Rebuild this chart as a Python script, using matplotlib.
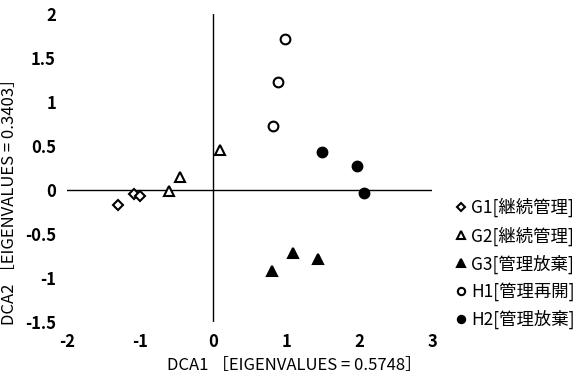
import matplotlib
matplotlib.use("Agg")
import matplotlib.pyplot as plt

plt.rcParams['font.family'] = ['Noto Sans CJK JP', 'DejaVu Sans']

g1_x = [-1.30, -1.08, -1.00]
g1_y = [-0.17, -0.05, -0.07]
g2_x = [-0.60, -0.45, 0.10]
g2_y = [-0.01, 0.15, 0.46]
g3_x = [0.81, 1.10, 1.44]
g3_y = [-0.92, -0.72, -0.78]
h1_x = [0.82, 0.89, 0.99]
h1_y = [0.73, 1.23, 1.72]
h2_x = [1.49, 1.97, 2.07]
h2_y = [0.43, 0.27, -0.03]

labels = ['G1[継続管理]', 'G2[継続管理]', 'G3[管理放棄]', 'H1[管理再開]', 'H2[管理放棄]']
xticks = [-2, -1, 0, 1, 2, 3]
yticks = [-1.5, -1, -0.5, 0, 0.5, 1, 1.5, 2]
ytick_labels = ['-1.5', '-1', '-0.5', '0', '0.5', '1', '1.5', '2']

fig = plt.figure(figsize=(5.86, 3.74), dpi=100)
ax = fig.add_axes([67/586, 1-322/374, (432-67)/586, (322-14)/374])

ms = 7
ax.plot(g1_x, g1_y, 'D', ms=5.5, mfc='white', mec='black', mew=1.5, ls='none', label=labels[0])
ax.plot(g2_x, g2_y, '^', ms=ms, mfc='white', mec='black', mew=1.5, ls='none', label=labels[1])
ax.plot(g3_x, g3_y, '^', ms=ms, mfc='black', mec='black', mew=1.5, ls='none', label=labels[2])
ax.plot(h1_x, h1_y, 'o', ms=ms, mfc='white', mec='black', mew=1.5, ls='none', label=labels[3])
ax.plot(h2_x, h2_y, 'o', ms=ms, mfc='black', mec='black', mew=1.5, ls='none', label=labels[4])

ax.axhline(0, color='black', lw=1, zorder=0)
ax.axvline(0, color='black', lw=1, zorder=0)

ax.set_xlim(-2, 3)
ax.set_ylim(-1.5, 2)
ax.set_xticks(xticks)
ax.set_xticklabels([str(t) for t in xticks], fontsize=12, fontweight='bold')
ax.set_yticks(yticks)
ax.set_yticklabels(ytick_labels, fontsize=12, fontweight='bold')
ax.tick_params(length=0, pad=8)
for s in ax.spines.values():
    s.set_visible(False)

ax.set_xlabel('DCA1 ［EIGENVALUES = 0.5748］', fontsize=12)
ax.xaxis.set_label_coords((294-67)/365, -0.115)
ax.set_ylabel('DCA2 ［EIGENVALUES = 0.3403］', fontsize=12)
ax.yaxis.set_label_coords(-0.135, (322-198)/308)

leg = ax.legend(loc='upper left', bbox_to_anchor=(1.035, 0.443), frameon=False,
                fontsize=12.5, handlelength=0.5, handletextpad=0.3, labelspacing=0.5,
                markerscale=0.75, borderaxespad=0.3)

fig.savefig('out.png', dpi=100)
